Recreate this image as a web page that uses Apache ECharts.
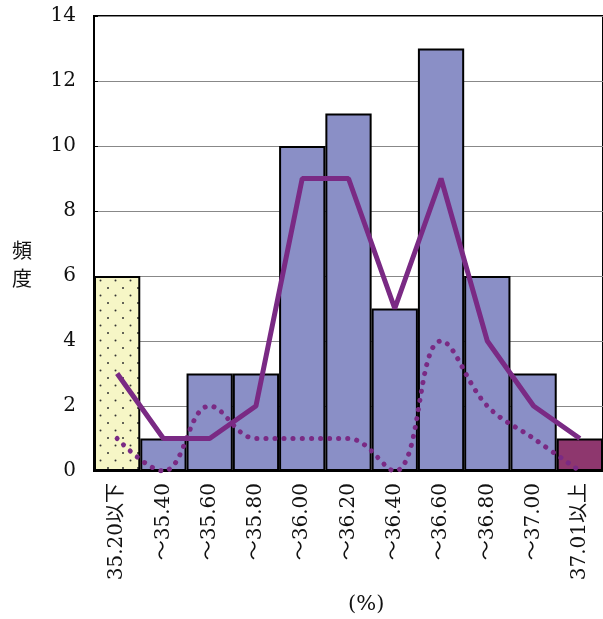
<!DOCTYPE html>
<html><head><meta charset="utf-8">
<script src="https://cdn.jsdelivr.net/npm/echarts@6/dist/echarts.min.js"></script>
<style>html,body{margin:0;padding:0;background:#fff}#c{width:603px;height:619px}</style>
</head><body><div id="c"></div>
<script>
const categories = ['35.20以下','〜35.40','〜35.60','〜35.80','〜36.00','〜36.20','〜36.40','〜36.60','〜36.80','〜37.00','37.01以上'];
const barValues = [6, 1, 3, 3, 10, 11, 5, 13, 6, 3, 1];
const solidLine = [3, 1, 1, 2, 9, 9, 5, 9, 4, 2, 1];
const dottedLine = [1, 0, 2, 1, 1, 1, 0, 4, 2, 1, 0];
const yTicks = [0, 2, 4, 6, 8, 10, 12, 14];

const pc = document.createElement('canvas');
pc.width = 15; pc.height = 15;
const g = pc.getContext('2d');
g.fillStyle = '#F6F6C6'; g.fillRect(0,0,15,15);
g.fillStyle = '#333';
g.beginPath(); g.arc(3,3,1,0,Math.PI*2); g.fill();
g.beginPath(); g.arc(10.5,10.5,1,0,Math.PI*2); g.fill();

const serif = '"DejaVu Serif","Liberation Serif","Noto Sans CJK JP",serif';
const purple = '#7A2A84';

const barData = barValues.map((v, i) => {
  const d = { value: v };
  if (i === 0) d.itemStyle = { color: { image: pc, repeat: 'repeat' } };
  if (i === barValues.length - 1) d.itemStyle = { color: '#8E376E' };
  return d;
});

const chart = echarts.init(document.getElementById('c'));
chart.setOption({
  animation: false,
  backgroundColor: '#fff',
  grid: { left: 94, right: 0, top: 16, bottom: 148, show: true, borderColor: '#000', borderWidth: 2, backgroundColor: 'transparent' },
  xAxis: {
    type: 'category', data: categories, boundaryGap: true,
    axisLine: { lineStyle: { color: '#000', width: 2 } },
    axisTick: { show: false },
    axisLabel: { rotate: 90, color: '#111', fontFamily: serif, fontSize: 20, margin: 12, interval: 0 }
  },
  yAxis: {
    type: 'value', min: 0, max: 14, interval: 2,
    axisLine: { show: true, lineStyle: { color: '#000', width: 2 } },
    axisTick: { show: true, inside: true, length: 4, lineStyle: { color: '#000' } },
    axisLabel: { color: '#111', fontFamily: serif, fontSize: 20, margin: 18 },
    splitLine: { lineStyle: { color: '#888', width: 1 } }
  },
  graphic: [
    { type: 'text', left: 12, top: 236, style: { text: '頻\n度', font: '20px "Noto Sans CJK JP"', fill: '#111', lineHeight: 28 } },
    { type: 'text', left: 348, top: 594, style: { text: '(%)', font: '21px ' + serif, fill: '#111' } }
  ],
  series: [
    { type: 'bar', data: barData, barCategoryGap: '0%', barGap: '0%',
      itemStyle: { color: '#8A8FC6', borderColor: '#000', borderWidth: 2 }, z: 2 },
    { type: 'line', data: solidLine, symbol: 'none', lineStyle: { color: purple, width: 5 }, z: 4 },
    { type: 'line', data: dottedLine, smooth: 0.4, symbol: 'none',
      lineStyle: { color: purple, width: 5, type: [0.1, 9], cap: 'round' }, z: 3 }
  ]
});
</script></body></html>
